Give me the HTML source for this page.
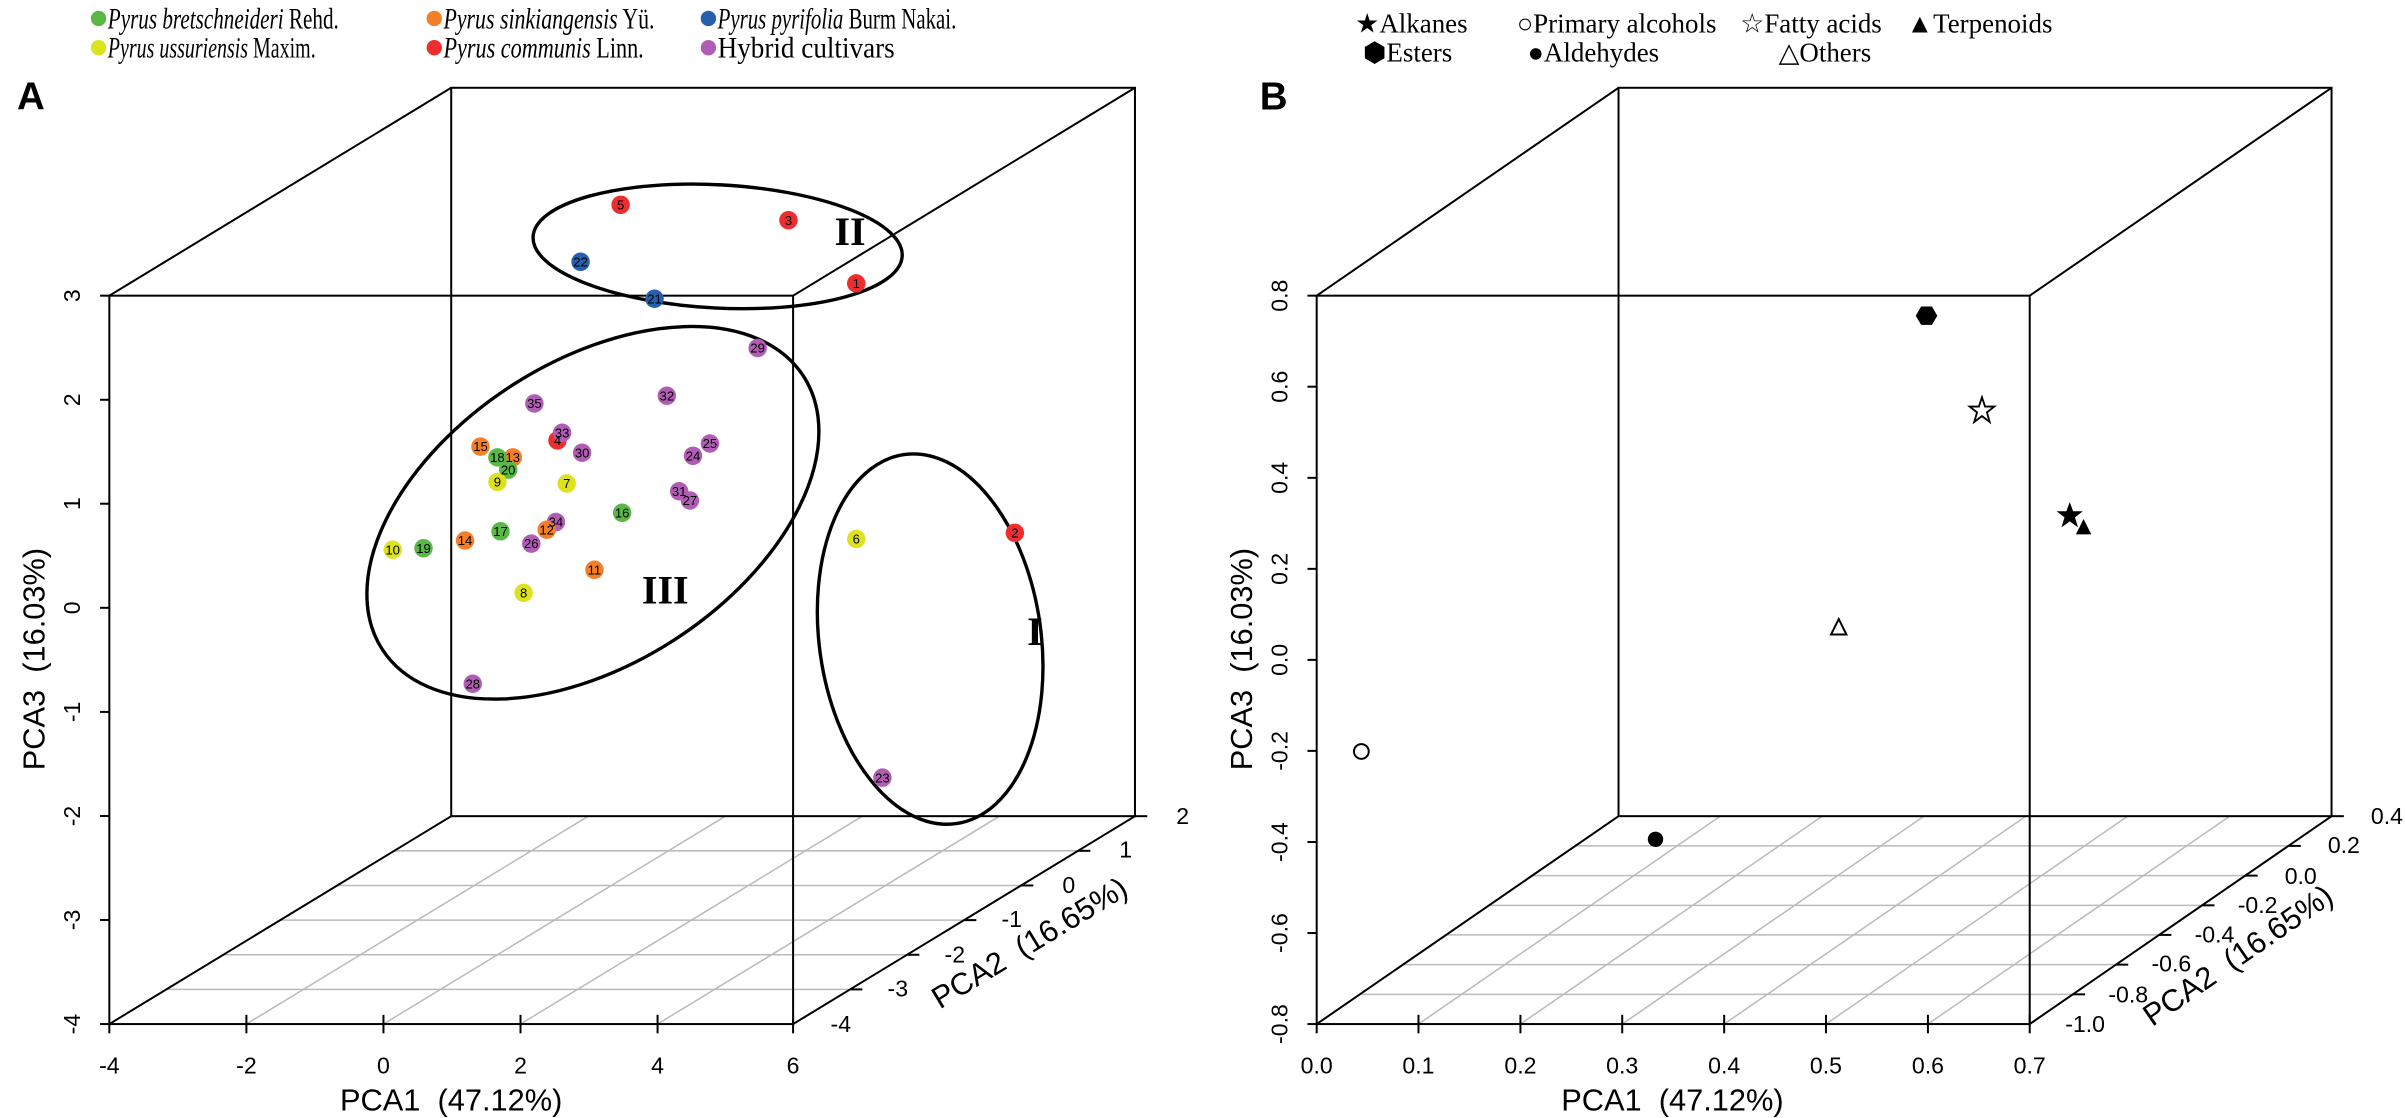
<!DOCTYPE html>
<html><head><meta charset="utf-8"><style>
html,body{margin:0;padding:0;background:#fff;}
svg{display:block;}
text{font-family:"Liberation Sans",sans-serif;}
.s{font-family:"Liberation Serif",serif;}
</style></head><body>
<svg width="2405" height="1118" viewBox="0 0 1561.7 726" preserveAspectRatio="none" xmlns="http://www.w3.org/2000/svg">
<rect width="1561.7" height="726" fill="#fff"/>
<!-- ===== Legend A ===== -->
<g class="s" font-size="19">
<circle cx="64" cy="12" r="5" fill="#5ab946"/><text class="s" x="70" y="18.5" textLength="150" lengthAdjust="spacingAndGlyphs"><tspan font-style="italic">Pyrus bretschneideri</tspan> Rehd.</text>
<circle cx="282" cy="12" r="5" fill="#f47f2a"/><text class="s" x="288" y="18.5" textLength="137" lengthAdjust="spacingAndGlyphs"><tspan font-style="italic">Pyrus sinkiangensis</tspan> Yü.</text>
<circle cx="460" cy="12" r="5" fill="#2460ae"/><text class="s" x="466" y="18.5" textLength="155" lengthAdjust="spacingAndGlyphs"><tspan font-style="italic">Pyrus pyrifolia</tspan> Burm Nakai.</text>
<circle cx="64" cy="31" r="5" fill="#dde21e"/><text class="s" x="70" y="37.5" textLength="135" lengthAdjust="spacingAndGlyphs"><tspan font-style="italic">Pyrus ussuriensis</tspan> Maxim.</text>
<circle cx="282" cy="31" r="5" fill="#ee2e2e"/><text class="s" x="288" y="37.5" textLength="130" lengthAdjust="spacingAndGlyphs"><tspan font-style="italic">Pyrus communis</tspan> Linn.</text>
<circle cx="460" cy="31" r="5" fill="#b25db5"/><text class="s" x="466" y="37.5" textLength="115" lengthAdjust="spacingAndGlyphs">Hybrid cultivars</text>
</g>
<text x="11" y="71" font-size="25" font-weight="bold">A</text>
<text x="818" y="71" font-size="25" font-weight="bold">B</text>

<!-- ===== Panel A ===== -->
<g stroke="#bbb" stroke-width="1" fill="none">
<line x1="108" y1="642.5" x2="552" y2="642.5"/><line x1="145" y1="620" x2="589" y2="620"/><line x1="182" y1="597.5" x2="626" y2="597.5"/><line x1="219" y1="575" x2="663" y2="575"/><line x1="256" y1="552.5" x2="700" y2="552.5"/>
<line x1="160" y1="665" x2="382" y2="530"/><line x1="249" y1="665" x2="471" y2="530"/><line x1="338" y1="665" x2="560" y2="530"/><line x1="427" y1="665" x2="649" y2="530"/>
</g>
<g stroke="#000" stroke-width="1.3" fill="none">
<rect x="71" y="192" width="444" height="473"/>
<rect x="293" y="57" width="444" height="473"/>
<line x1="71" y1="192" x2="293" y2="57"/><line x1="515" y1="192" x2="737" y2="57"/>
<line x1="71" y1="665" x2="293" y2="530"/><line x1="515" y1="665" x2="737" y2="530"/>
</g>
<g stroke="#000" stroke-width="1.3">
<line x1="65" y1="192" x2="71" y2="192"/><line x1="65" y1="259.6" x2="71" y2="259.6"/><line x1="65" y1="327.1" x2="71" y2="327.1"/><line x1="65" y1="394.7" x2="71" y2="394.7"/><line x1="65" y1="462.3" x2="71" y2="462.3"/><line x1="65" y1="529.9" x2="71" y2="529.9"/><line x1="65" y1="597.4" x2="71" y2="597.4"/><line x1="65" y1="665" x2="71" y2="665"/>
<line x1="71" y1="665" x2="71" y2="671"/><line x1="160" y1="659" x2="160" y2="671"/><line x1="249" y1="659" x2="249" y2="671"/><line x1="338" y1="659" x2="338" y2="671"/><line x1="427" y1="659" x2="427" y2="671"/><line x1="515" y1="659" x2="515" y2="671"/>
<line x1="552" y1="642.5" x2="560" y2="642.5"/><line x1="589" y1="620" x2="597" y2="620"/><line x1="626" y1="597.5" x2="634" y2="597.5"/><line x1="663" y1="575" x2="671" y2="575"/><line x1="700" y1="552.5" x2="708" y2="552.5"/><line x1="737" y1="530" x2="745" y2="530"/>
</g>
<g font-size="15" text-anchor="middle">
<text transform="translate(52,192) rotate(-90)">3</text><text transform="translate(52,259.6) rotate(-90)">2</text><text transform="translate(52,327.1) rotate(-90)">1</text><text transform="translate(52,394.7) rotate(-90)">0</text><text transform="translate(52,462.3) rotate(-90)">-1</text><text transform="translate(52,529.9) rotate(-90)">-2</text><text transform="translate(52,597.4) rotate(-90)">-3</text><text transform="translate(52,665) rotate(-90)">-4</text>
<text x="71" y="697">-4</text><text x="160" y="697">-2</text><text x="249" y="697">0</text><text x="338" y="697">2</text><text x="427" y="697">4</text><text x="515" y="697">6</text>
<text x="546" y="670">-4</text><text x="583" y="647">-3</text><text x="620" y="625">-2</text><text x="657" y="602">-1</text><text x="694" y="580">0</text><text x="731" y="557">1</text><text x="768" y="535">2</text>
</g>
<text x="293" y="721" font-size="20" text-anchor="middle">PCA1&#160;&#160;(47.12%)</text>
<text transform="translate(29,428) rotate(-90)" font-size="20" text-anchor="middle">PCA3&#160;&#160;(16.03%)</text>
<text transform="translate(672,618) rotate(-31.3)" font-size="20" text-anchor="middle">PCA2&#160;&#160;(16.65%)</text>

<!-- ellipses -->
<g stroke="#000" stroke-width="2.2" fill="none">
<ellipse cx="466" cy="160" rx="120" ry="40" transform="rotate(3 466 160)"/>
<ellipse cx="385" cy="333" rx="163" ry="98" transform="rotate(-33 385 333)"/>
<ellipse cx="604" cy="415" rx="72" ry="121" transform="rotate(-8 604 415)"/>
</g>
<g font-size="26" text-anchor="middle" font-weight="bold">
<text class="s" x="552" y="159">II</text><text class="s" x="432" y="392">III</text><text class="s" x="672" y="419">I</text>
</g>
<!-- points -->
<g font-size="8.5" text-anchor="middle">
<g fill="#ee2e2e"><circle cx="403" cy="133" r="6"/><circle cx="512" cy="143" r="6"/><circle cx="556" cy="184" r="6"/><circle cx="362" cy="286" r="6"/><circle cx="659" cy="346" r="6"/></g>
<g fill="#2460ae"><circle cx="377" cy="170" r="6"/><circle cx="425" cy="194" r="6"/></g>
<g fill="#b25db5"><circle cx="492" cy="226" r="6"/><circle cx="347" cy="262" r="6"/><circle cx="433" cy="257" r="6"/><circle cx="365" cy="281" r="6"/><circle cx="378" cy="294" r="6"/><circle cx="461" cy="288" r="6"/><circle cx="450" cy="296" r="6"/><circle cx="441" cy="319" r="6"/><circle cx="448" cy="325" r="6"/><circle cx="361" cy="339" r="6"/><circle cx="345" cy="353" r="6"/><circle cx="307" cy="444" r="6"/><circle cx="573" cy="505" r="6"/></g>
<g fill="#f47f2a"><circle cx="312" cy="290" r="6"/><circle cx="333" cy="297" r="6"/><circle cx="355" cy="344" r="6"/><circle cx="302" cy="351" r="6"/><circle cx="386" cy="370" r="6"/></g>
<g fill="#5ab946"><circle cx="323" cy="297" r="6"/><circle cx="330" cy="305" r="6"/><circle cx="404" cy="333" r="6"/><circle cx="325" cy="345" r="6"/><circle cx="275" cy="356" r="6"/></g>
<g fill="#dde21e"><circle cx="323" cy="313" r="6"/><circle cx="368" cy="314" r="6"/><circle cx="255" cy="357" r="6"/><circle cx="340" cy="385" r="6"/><circle cx="556" cy="350" r="6"/></g>
<text x="403" y="136">5</text><text x="512" y="146">3</text><text x="556" y="187">1</text><text x="362" y="289">4</text><text x="659" y="349">2</text>
<text x="377" y="173">22</text><text x="425" y="197">21</text>
<text x="492" y="229">29</text><text x="347" y="265">35</text><text x="433" y="260">32</text><text x="365" y="284">33</text><text x="378" y="297">30</text><text x="461" y="291">25</text><text x="450" y="299">24</text><text x="441" y="322">31</text><text x="448" y="328">27</text><text x="361" y="342">34</text><text x="345" y="356">26</text><text x="307" y="447">28</text><text x="573" y="508">23</text>
<text x="312" y="293">15</text><text x="333" y="300">13</text><text x="355" y="347">12</text><text x="302" y="354">14</text><text x="386" y="373">11</text>
<text x="323" y="300">18</text><text x="330" y="308">20</text><text x="404" y="336">16</text><text x="325" y="348">17</text><text x="275" y="359">19</text>
<text x="323" y="316">9</text><text x="368" y="317">7</text><text x="255" y="360">10</text><text x="340" y="388">8</text><text x="556" y="353">6</text>
</g>

<!-- ===== Legend B ===== -->
<g font-size="17.5">
<text class="s" x="880" y="21">★Alkanes</text>
<text class="s" x="985" y="21">○Primary alcohols</text>
<text class="s" x="1130" y="21">☆Fatty acids</text>
<text class="s" x="1238" y="21">▲Terpenoids</text>
<text class="s" x="885" y="40">⬢Esters</text>
<text class="s" x="992" y="40">●Aldehydes</text>
<text class="s" x="1155" y="40">△Others</text>
</g>

<!-- ===== Panel B ===== -->
<g stroke="#bbb" stroke-width="1" fill="none">
<line x1="883" y1="645.7" x2="1346" y2="645.7"/><line x1="911" y1="626.4" x2="1374" y2="626.4"/><line x1="939" y1="607.1" x2="1402" y2="607.1"/><line x1="967" y1="587.9" x2="1430" y2="587.9"/><line x1="995" y1="568.6" x2="1458" y2="568.6"/><line x1="1023" y1="549.3" x2="1486" y2="549.3"/>
<line x1="921.1" y1="665" x2="1117.1" y2="530"/><line x1="987.3" y1="665" x2="1183.3" y2="530"/><line x1="1053.4" y1="665" x2="1249.4" y2="530"/><line x1="1119.6" y1="665" x2="1315.6" y2="530"/><line x1="1185.7" y1="665" x2="1381.7" y2="530"/><line x1="1251.9" y1="665" x2="1447.9" y2="530"/>
</g>
<g stroke="#000" stroke-width="1.3" fill="none">
<rect x="855" y="192" width="463" height="473"/>
<rect x="1051" y="57" width="463" height="473"/>
<line x1="855" y1="192" x2="1051" y2="57"/><line x1="1318" y1="192" x2="1514" y2="57"/>
<line x1="855" y1="665" x2="1051" y2="530"/><line x1="1318" y1="665" x2="1514" y2="530"/>
</g>
<g stroke="#000" stroke-width="1.3">
<line x1="849" y1="192" x2="855" y2="192"/><line x1="849" y1="251.1" x2="855" y2="251.1"/><line x1="849" y1="310.3" x2="855" y2="310.3"/><line x1="849" y1="369.4" x2="855" y2="369.4"/><line x1="849" y1="428.5" x2="855" y2="428.5"/><line x1="849" y1="487.6" x2="855" y2="487.6"/><line x1="849" y1="546.8" x2="855" y2="546.8"/><line x1="849" y1="605.9" x2="855" y2="605.9"/><line x1="849" y1="665" x2="855" y2="665"/>
<line x1="855" y1="665" x2="855" y2="671"/><line x1="921.1" y1="659" x2="921.1" y2="671"/><line x1="987.3" y1="659" x2="987.3" y2="671"/><line x1="1053.4" y1="659" x2="1053.4" y2="671"/><line x1="1119.6" y1="659" x2="1119.6" y2="671"/><line x1="1185.7" y1="659" x2="1185.7" y2="671"/><line x1="1251.9" y1="659" x2="1251.9" y2="671"/><line x1="1318" y1="659" x2="1318" y2="671"/>
<line x1="1346" y1="645.7" x2="1354" y2="645.7"/><line x1="1374" y1="626.4" x2="1382" y2="626.4"/><line x1="1402" y1="607.1" x2="1410" y2="607.1"/><line x1="1430" y1="587.9" x2="1438" y2="587.9"/><line x1="1458" y1="568.6" x2="1466" y2="568.6"/><line x1="1486" y1="549.3" x2="1494" y2="549.3"/><line x1="1514" y1="530" x2="1522" y2="530"/>
</g>
<g font-size="15" text-anchor="middle">
<text transform="translate(836,192) rotate(-90)">0.8</text><text transform="translate(836,251.1) rotate(-90)">0.6</text><text transform="translate(836,310.3) rotate(-90)">0.4</text><text transform="translate(836,369.4) rotate(-90)">0.2</text><text transform="translate(836,428.5) rotate(-90)">0.0</text><text transform="translate(836,487.6) rotate(-90)">-0.2</text><text transform="translate(836,546.8) rotate(-90)">-0.4</text><text transform="translate(836,605.9) rotate(-90)">-0.6</text><text transform="translate(836,665) rotate(-90)">-0.8</text>
<text x="855" y="697">0.0</text><text x="921.1" y="697">0.1</text><text x="987.3" y="697">0.2</text><text x="1053.4" y="697">0.3</text><text x="1119.6" y="697">0.4</text><text x="1185.7" y="697">0.5</text><text x="1251.9" y="697">0.6</text><text x="1318" y="697">0.7</text>
<text x="1354" y="670">-1.0</text><text x="1382" y="651">-0.8</text><text x="1410" y="631">-0.6</text><text x="1438" y="612">-0.4</text><text x="1466" y="593">-0.2</text><text x="1494" y="574">0.0</text><text x="1522" y="554">0.2</text><text x="1550" y="535">0.4</text>
</g>
<text x="1086" y="721" font-size="20" text-anchor="middle">PCA1&#160;&#160;(47.12%)</text>
<text transform="translate(813,428) rotate(-90)" font-size="20" text-anchor="middle">PCA3&#160;&#160;(16.03%)</text>
<text transform="translate(1457,626) rotate(-34.6)" font-size="20" text-anchor="middle">PCA2&#160;&#160;(16.65%)</text>

<!-- B symbols -->
<polygon points="1244,205 1247.5,199 1254.5,199 1258,205 1254.5,211 1247.5,211" fill="#000"/>
<polygon points="1287,258 1289,264 1295,264 1290.2,267.8 1292,274 1287,270.2 1282,274 1283.8,267.8 1279,264 1285,264" fill="none" stroke="#000" stroke-width="1.2"/>
<polygon points="1344,326 1346.2,332 1352.5,332 1347.4,336 1349.4,342.5 1344,338.6 1338.6,342.5 1340.6,336 1335.5,332 1341.8,332" fill="#000"/>
<polygon points="1353,337 1358,347 1348,347" fill="#000"/>
<polygon points="1194,402 1199,412 1189,412" fill="none" stroke="#000" stroke-width="1.3"/>
<circle cx="884" cy="488" r="4.8" fill="none" stroke="#000" stroke-width="1.3"/>
<circle cx="1075" cy="545" r="5" fill="#000"/>
</svg>
</body></html>
